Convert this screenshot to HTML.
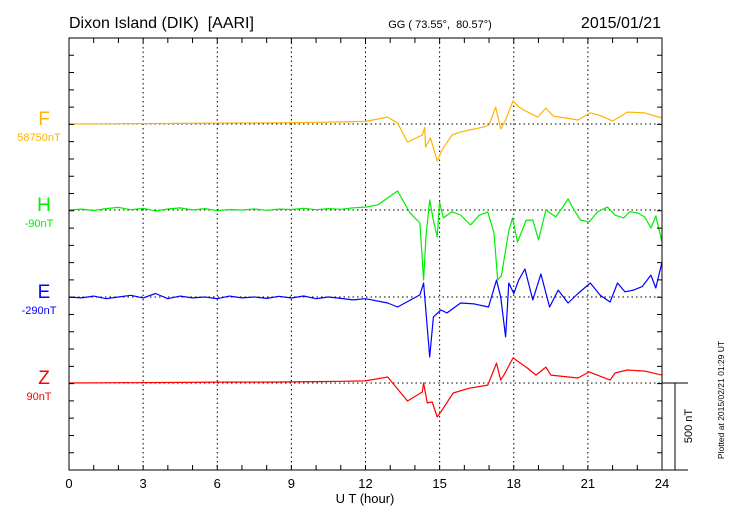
<!DOCTYPE html>
<html><head><meta charset="utf-8"><style>
html,body{margin:0;padding:0;background:#fff;}
svg{display:block;font-family:"Liberation Sans",sans-serif;}
text{white-space:pre;}
</style></head><body>
<svg id="chart" width="730" height="520" viewBox="0 0 730 520">
<text x="69" y="28" font-size="16">Dixon Island (DIK)  [AARI]</text>
<text x="440" y="28" font-size="11" text-anchor="middle">GG ( 73.55°,  80.57°)</text>
<text x="661" y="28" font-size="16" text-anchor="end">2015/01/21</text>
<g id="grid"></g>
<g id="series"></g>
<g id="axes"></g>
<text x="365" y="503" font-size="13" text-anchor="middle">U T (hour)</text>
<text transform="translate(692,426) rotate(-90)" font-size="11" text-anchor="middle">500 nT</text>
<text transform="translate(724,400) rotate(-90)" font-size="8.5" text-anchor="middle">Plotted at 2015/02/21 01:29 UT</text>
</svg>
<script>
const xTicks=[0,3,6,9,12,15,18,21,24];
const seriesNames=["F","H","E","Z"];
const seriesBaseLabels=["58750nT","-90nT","-290nT","90nT"];
const seriesColors=["#ffb400","#00ee00","#0000ff","#ff0000"];
const fT=[0,2,4,6,8,10,11,12,12.9,13.3,13.7,14.3,14.4,14.43,14.63,14.9,15.1,15.5,15.85,16.8,17.0,17.27,17.47,17.67,17.97,18.2,18.4,18.97,19.3,19.6,20.1,20.6,21.1,21.5,22.0,22.6,23.3,24];
const fV=[0,2,3,5,6,10,12,15,40,5,-105,-64,-20,-133,-81,-214,-150,-64,-46,-17,-6,98,-29,23,133,100,81,40,92,46,35,23,64,50,17,69,64,35];
const hT=[0,0.5,1,1.5,2,2.5,3,3.5,4,4.5,5,5.5,6,6.5,7,7.5,8,8.5,9,9.5,10,10.5,11,11.5,12,12.5,13.3,13.8,14.2,14.35,14.45,14.6,14.75,14.9,15.0,15.15,15.5,15.85,16.25,16.6,16.95,17.2,17.35,17.5,17.65,17.8,17.95,18.15,18.5,18.77,19.0,19.3,19.5,19.7,20.0,20.2,20.4,20.7,21.05,21.4,21.8,22.1,22.45,22.7,23.0,23.3,23.55,23.75,24];
const hV=[0,5,-3,8,15,2,10,-5,6,12,0,8,-4,3,0,6,-2,5,3,10,2,8,4,12,17,30,110,-17,-75,-405,-150,58,-60,-156,46,-46,-10,-29,-87,-30,-12,-133,-405,-380,-250,-120,-46,-185,-60,-58,-173,0,-20,-40,20,64,10,-58,-69,-10,17,-30,-46,-10,-17,-40,-104,-35,-185];
const eT=[0,0.5,1,1.5,2,2.5,3,3.5,4,4.5,5,5.5,6,6.5,7,7.5,8,8.5,9,9.5,10,10.5,11,11.5,12,12.9,13.3,14.2,14.35,14.6,14.75,15.05,15.3,15.85,16.4,16.98,17.3,17.47,17.67,17.8,18.0,18.2,18.45,18.77,19.1,19.45,19.8,20.2,20.6,21.1,21.5,21.9,22.2,22.5,22.85,23.2,23.55,23.75,24];
const eV=[0,-5,5,-10,0,10,-5,20,-10,5,-5,0,-10,5,-5,0,-8,4,-6,6,-10,0,-8,-17,-10,-35,-58,12,81,-347,-115,-75,-92,-35,-40,-58,98,0,-231,81,20,98,162,-17,133,-58,40,-35,20,81,10,-29,81,30,40,60,127,52,202];
const zT=[0,2,4,6,8,10,11,12,12.9,13.7,14.3,14.35,14.5,14.7,14.9,15.1,15.55,16.2,16.95,17.3,17.47,17.6,17.97,18.55,18.9,19.3,19.5,20.6,21.05,21.9,22.1,22.6,23.3,24];
const zV=[0,2,3,5,5,8,10,12,35,-104,-52,0,-115,-110,-197,-156,-58,-30,-12,115,17,46,145,87,46,92,46,29,64,17,58,75,69,46];
const seriesT=[fT,hT,eT,zT];
const seriesV=[fV,hV,eV,zV];

const X0=69,X1=662,Y0=38,Y1=470;
const bases=[124,210,297,383];
const pxPerNT=17.28/100;
const xs=h=>X0+(X1-X0)*h/24;
const ys=(i,v)=>bases[i]-v*pxPerNT;
const NS="http://www.w3.org/2000/svg";
function mk(tag,attrs,parent){const e=document.createElementNS(NS,tag);for(const k in attrs)e.setAttribute(k,attrs[k]);parent.appendChild(e);return e;}
const grid=document.getElementById('grid'),axes=document.getElementById('axes'),ser=document.getElementById('series');
xTicks.slice(1,-1).forEach(h=>{
  const l=mk('line',{x1:xs(h),x2:xs(h),y1:Y0,y2:Y1,stroke:'#000','stroke-width':1,'stroke-dasharray':'1.5,3'},grid);
  
  
});
bases.forEach((b,i)=>{
  const l=mk('line',{x1:X0,x2:X1,y1:b,y2:b,stroke:'#000','stroke-width':1,'stroke-dasharray':'1.5,3'},grid);
  
  
});
seriesNames.forEach((n,i)=>{
  const T=seriesT[i],V=seriesV[i];
  const d=T.map((t,k)=>(k?'L':'M')+xs(t).toFixed(1)+','+ys(i,V[k]).toFixed(1)).join(' ');
  const p=mk('path',{d:d,fill:'none',stroke:seriesColors[i],'stroke-width':1.2,'stroke-linejoin':'round'},ser);
  
  
  const t=mk('text',{x:44,y:bases[i]+1,'font-size':19,'text-anchor':'middle',fill:seriesColors[i]},ser);
  t.textContent=n;
  
  
  const s=mk('text',{x:39,y:bases[i]+17,'font-size':11,'text-anchor':'middle',fill:seriesColors[i]},ser);
  s.textContent=seriesBaseLabels[i];
  
  
});
const fr=mk('rect',{x:X0,y:Y0,width:X1-X0,height:Y1-Y0,fill:'none',stroke:'#000','stroke-width':1},axes);


let d='';
for(let h=1;h<24;h++){d+=`M${xs(h)},${Y0}v5M${xs(h)},${Y1}v-5`;}
for(let k=1;k<25;k++){const y=Y0+k*17.28;d+=`M${X0},${y}h5M${X1},${y}h-5`;}
d+=`M${X1},383h26M675,383V${Y1}M${X1},${Y1}h26`;
const tk=mk('path',{d:d,stroke:'#000','stroke-width':1,fill:'none'},axes);


xTicks.forEach(h=>{
  const t=mk('text',{x:xs(h),y:488,'font-size':13,'text-anchor':'middle'},axes);
  t.textContent=h;
  
  
});
</script>
</body></html>
